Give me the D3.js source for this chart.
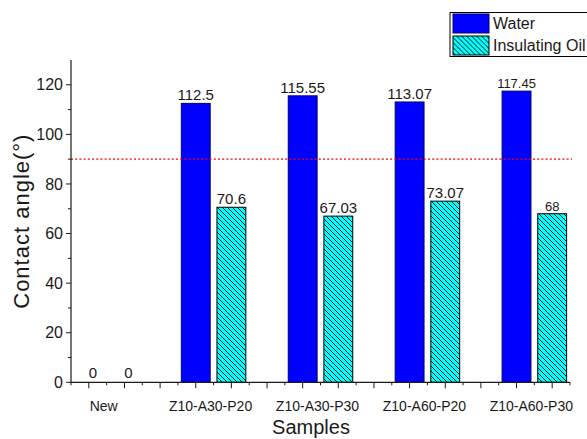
<!DOCTYPE html>
<html>
<head>
<meta charset="utf-8">
<script src="https://cdn.jsdelivr.net/npm/d3@7/dist/d3.min.js"></script>
<style>
  html, body { margin: 0; padding: 0; background: #fff; }
  svg { display: block; font-family: "Liberation Sans", Arial, sans-serif; }
</style>
</head>
<body>
<svg id="chart" width="587" height="439"></svg>
<script>
// Contact angle of each sample against water and insulating oil
const categories = ["New", "Z10-A30-P20", "Z10-A30-P30", "Z10-A60-P20", "Z10-A60-P30"];
const seriesNames = ["Water", "Insulating Oil"];
const waterAngles = [0, 112.5, 115.55, 113.07, 117.45];
const oilAngles = [0, 70.6, 67.03, 73.07, 68];
const yTickValues = [0, 20, 40, 60, 80, 100, 120];
const referenceAngle = 90;

(function () {
  const svg = d3.select("#chart");
  const ink = "#1a1a1a";

  // plot frame
  const plotLeft = 71, plotRight = 570, plotTop = 60, plotBottom = 382.3;

  // each sample takes three slots: water, oil, spacer (the last one has no spacer)
  const slotCount = categories.length * 3 - 1;
  const x = d3.scaleLinear().domain([-0.5, slotCount - 0.5]).range([plotLeft, plotRight]);
  const slotW = x(1) - x(0);
  const barW = slotW * 0.81;
  const y = d3.scaleLinear().domain([0, 130]).range([plotBottom, plotTop]);

  // hatch for the oil bars
  const defs = svg.append("defs");
  const pat = defs.append("pattern")
    .attr("id", "hatch")
    .attr("patternUnits", "userSpaceOnUse")
    .attr("width", 5).attr("height", 5);
  pat.append("rect").attr("width", 5).attr("height", 5).attr("fill", "#00ffff");
  pat.append("path")
    .attr("d", "M-1,-1 L6,6 M-1,4 L1,6 M4,-1 L6,1")
    .attr("stroke", "#000").attr("stroke-width", 0.9).attr("fill", "none");

  const bars = [];
  categories.forEach((c, i) => {
    bars.push({ cat: c, g: i, s: 0, v: waterAngles[i] });
    bars.push({ cat: c, g: i, s: 1, v: oilAngles[i] });
  });
  const slotOf = d => d.g * 3 + d.s;

  // bars
  svg.append("g").selectAll("rect").data(bars.filter(d => d.v > 0)).join("rect")
    .attr("x", d => x(slotOf(d)) - barW / 2)
    .attr("y", d => y(d.v))
    .attr("width", barW)
    .attr("height", d => y(0) - y(d.v))
    .attr("fill", d => d.s === 0 ? "#0000ff" : "url(#hatch)")
    .attr("stroke", d => d.s === 0 ? "#00006e" : "#000")
    .attr("stroke-width", 1);

  // value labels
  svg.append("g").selectAll("text").data(bars).join("text")
    .attr("x", d => x(slotOf(d)) + (d.v === 0 ? 4 : 0))
    .attr("y", d => y(d.v) - (d.v === 0 ? 4 : 3))
    .attr("text-anchor", "middle")
    .attr("font-size", d => d.g === categories.length - 1 ? 13 : 15)
    .attr("fill", ink)
    .text(d => String(d.v));

  // reference line at 90 degrees
  svg.append("line")
    .attr("x1", plotLeft).attr("x2", plotRight + 2)
    .attr("y1", y(referenceAngle)).attr("y2", y(referenceAngle))
    .attr("stroke", "#ff0000").attr("stroke-width", 1.4)
    .attr("stroke-dasharray", "2,2.2");

  // y axis
  const yAxis = svg.append("g").attr("transform", `translate(${plotLeft},0)`);
  yAxis.append("line").attr("x1", 0).attr("x2", 0).attr("y1", plotTop).attr("y2", plotBottom)
    .attr("stroke", ink).attr("stroke-width", 1.2);
  yAxis.selectAll(".major").data(yTickValues).join("line").attr("class", "major")
    .attr("x1", -5).attr("x2", 0)
    .attr("y1", d => y(d)).attr("y2", d => y(d))
    .attr("stroke", ink).attr("stroke-width", 1);
  yAxis.selectAll(".minor").data(d3.range(10, 130, 20)).join("line").attr("class", "minor")
    .attr("x1", -3).attr("x2", 0)
    .attr("y1", d => y(d)).attr("y2", d => y(d))
    .attr("stroke", ink).attr("stroke-width", 1);
  yAxis.selectAll("text").data(yTickValues).join("text")
    .attr("x", -8).attr("y", d => y(d)).attr("dy", "0.35em")
    .attr("text-anchor", "end").attr("font-size", 16).attr("fill", ink)
    .text(d => d);

  // x axis
  const xAxis = svg.append("g").attr("transform", `translate(0,${plotBottom})`);
  xAxis.append("line").attr("x1", plotLeft).attr("x2", plotRight).attr("y1", 0).attr("y2", 0)
    .attr("stroke", ink).attr("stroke-width", 1.2);
  xAxis.selectAll(".major").data(d3.range(0, slotCount)).join("line").attr("class", "major")
    .attr("x1", d => x(d)).attr("x2", d => x(d))
    .attr("y1", 0).attr("y2", 6)
    .attr("stroke", ink).attr("stroke-width", 1);
  xAxis.selectAll(".minor").data(d3.range(-0.5, slotCount, 1)).join("line").attr("class", "minor")
    .attr("x1", d => x(d)).attr("x2", d => x(d))
    .attr("y1", 0).attr("y2", 3)
    .attr("stroke", ink).attr("stroke-width", 1);
  xAxis.selectAll("text").data(categories).join("text")
    .attr("x", (d, i) => (x(i * 3) + x(i * 3 + 1)) / 2 - 3)
    .attr("y", 29)
    .attr("text-anchor", "middle").attr("font-size", 14).attr("fill", ink)
    .text(d => d);

  // axis titles
  svg.append("text")
    .attr("x", 311).attr("y", 434)
    .attr("text-anchor", "middle").attr("font-size", 20).attr("fill", ink)
    .text("Samples");
  svg.append("text")
    .attr("transform", `translate(29,${(plotTop + plotBottom) / 2}) rotate(-90)`)
    .attr("text-anchor", "middle").attr("font-size", 22).attr("letter-spacing", 1)
    .attr("fill", ink)
    .text("Contact angle(°)");

  // legend
  const lg = svg.append("g").attr("transform", "translate(450,12.5)");
  lg.append("rect").attr("x", 0).attr("y", 0).attr("width", 140).attr("height", 44)
    .attr("fill", "#fff").attr("stroke", "#000").attr("stroke-width", 1);
  seriesNames.forEach((name, i) => {
    const row = lg.append("g").attr("transform", `translate(0,${i * 22})`);
    row.append("rect").attr("x", 3).attr("y", 1.5).attr("width", 36).attr("height", 19)
      .attr("fill", i === 0 ? "#0000ff" : "url(#hatch)")
      .attr("stroke", i === 0 ? "#00006e" : "#000").attr("stroke-width", 1);
    row.append("text").attr("x", 43).attr("y", 16.5)
      .attr("font-size", 16).attr("fill", ink).text(name);
  });
})();
</script>
</body>
</html>
